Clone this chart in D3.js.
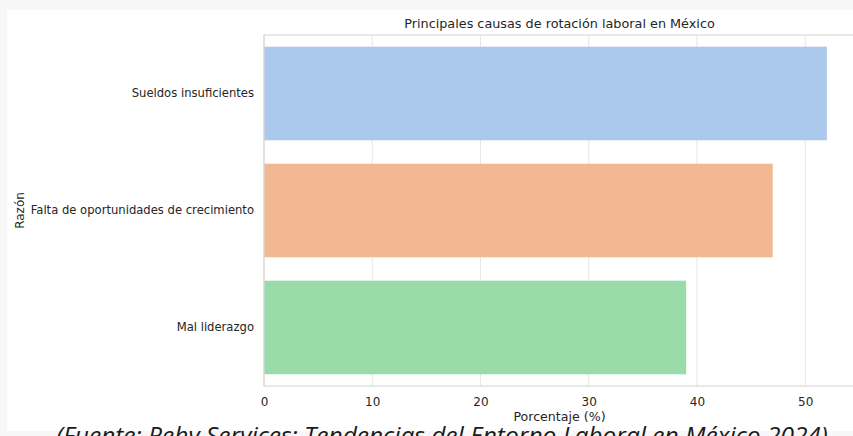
<!DOCTYPE html>
<html>
<head>
<meta charset="utf-8">
<script src="https://cdn.jsdelivr.net/npm/d3@7"></script>
<style>
  html, body { margin: 0; padding: 0; background: #f7f7f7; overflow: hidden; }
</style>
</head>
<body>
<div id="chart"></div>
<script>
// data
var reasons = ["Sueldos insuficientes", "Falta de oportunidades de crecimiento", "Mal liderazgo"];
var percents = [52, 47, 39];
var barColors = ["#abc9ec", "#f1b892", "#99dba9"];
var xTicks = [0, 10, 20, 30, 40, 50];

var width = 853, height = 436;
var plotLeft = 264, plotRight = 855, plotTop = 35, plotBottom = 386;

var svg = d3.select("#chart").append("svg")
    .attr("width", width)
    .attr("height", height)
    .style("font-family", "'DejaVu Sans', sans-serif");

// page background and figure
svg.append("rect")
    .attr("width", width).attr("height", height)
    .attr("fill", "#f7f7f7");
svg.append("rect")
    .attr("x", 7).attr("y", 10)
    .attr("width", width - 7).attr("height", 421)
    .attr("fill", "white");

var x = d3.scaleLinear()
    .domain([0, 54.6])
    .range([plotLeft, plotRight]);

var y = d3.scaleBand()
    .domain(reasons)
    .range([plotTop, plotBottom])
    .paddingInner(0.2)
    .paddingOuter(0.1);

// grid
svg.append("g").selectAll("line")
    .data(xTicks)
    .enter().append("line")
    .attr("x1", function(d) { return x(d); })
    .attr("x2", function(d) { return x(d); })
    .attr("y1", plotTop)
    .attr("y2", plotBottom)
    .attr("stroke", "#e6e6e6")
    .attr("stroke-width", 1);

// bars
svg.append("g").selectAll("rect")
    .data(reasons)
    .enter().append("rect")
    .attr("x", x(0))
    .attr("y", function(d) { return y(d); })
    .attr("width", function(d, i) { return x(percents[i]) - x(0); })
    .attr("height", y.bandwidth())
    .attr("fill", function(d, i) { return barColors[i]; });

// spines
svg.append("rect")
    .attr("x", plotLeft).attr("y", plotTop)
    .attr("width", plotRight - plotLeft).attr("height", plotBottom - plotTop)
    .attr("fill", "none")
    .attr("stroke", "#d9d9d9")
    .attr("stroke-width", 1.2);

// axes
var xAxis = svg.append("g")
    .attr("transform", "translate(0," + plotBottom + ")")
    .call(d3.axisBottom(x).tickValues(xTicks).tickSize(0).tickPadding(11));
var yAxis = svg.append("g")
    .attr("transform", "translate(" + plotLeft + ",0)")
    .call(d3.axisLeft(y).tickSize(0).tickPadding(10));

xAxis.select(".domain").remove();
yAxis.select(".domain").remove();
xAxis.selectAll("text")
    .style("font-family", "'DejaVu Sans', sans-serif")
    .style("font-size", "12px")
    .attr("fill", "#262626");
yAxis.selectAll("text")
    .style("font-family", "'DejaVu Sans', sans-serif")
    .style("font-size", "11.6px")
    .attr("fill", "#262626");

svg.append("text")
    .attr("x", (plotLeft + plotRight) / 2)
    .attr("y", 421)
    .attr("text-anchor", "middle")
    .style("font-size", "12.6px")
    .attr("fill", "#262626")
    .text("Porcentaje (%)");

svg.append("text")
    .attr("transform", "translate(24," + ((plotTop + plotBottom) / 2) + ") rotate(-90)")
    .attr("text-anchor", "middle")
    .style("font-size", "12px")
    .attr("fill", "#262626")
    .text("Razón");

svg.append("text")
    .attr("x", (plotLeft + plotRight) / 2)
    .attr("y", 28)
    .attr("text-anchor", "middle")
    .style("font-size", "12.8px")
    .attr("fill", "#262626")
    .text("Principales causas de rotación laboral en México");

// caption below the figure, cut by the window edge
svg.append("text")
    .attr("x", 442)
    .attr("y", 444)
    .attr("text-anchor", "middle")
    .style("font-family", "'Open Sans', sans-serif")
    .style("font-style", "italic")
    .style("font-size", "24.5px")
    .attr("fill", "#1a1a1a")
    .text("(Fuente: Rehv Services: Tendencias del Entorno Laboral en México 2024)");
</script>
</body>
</html>
